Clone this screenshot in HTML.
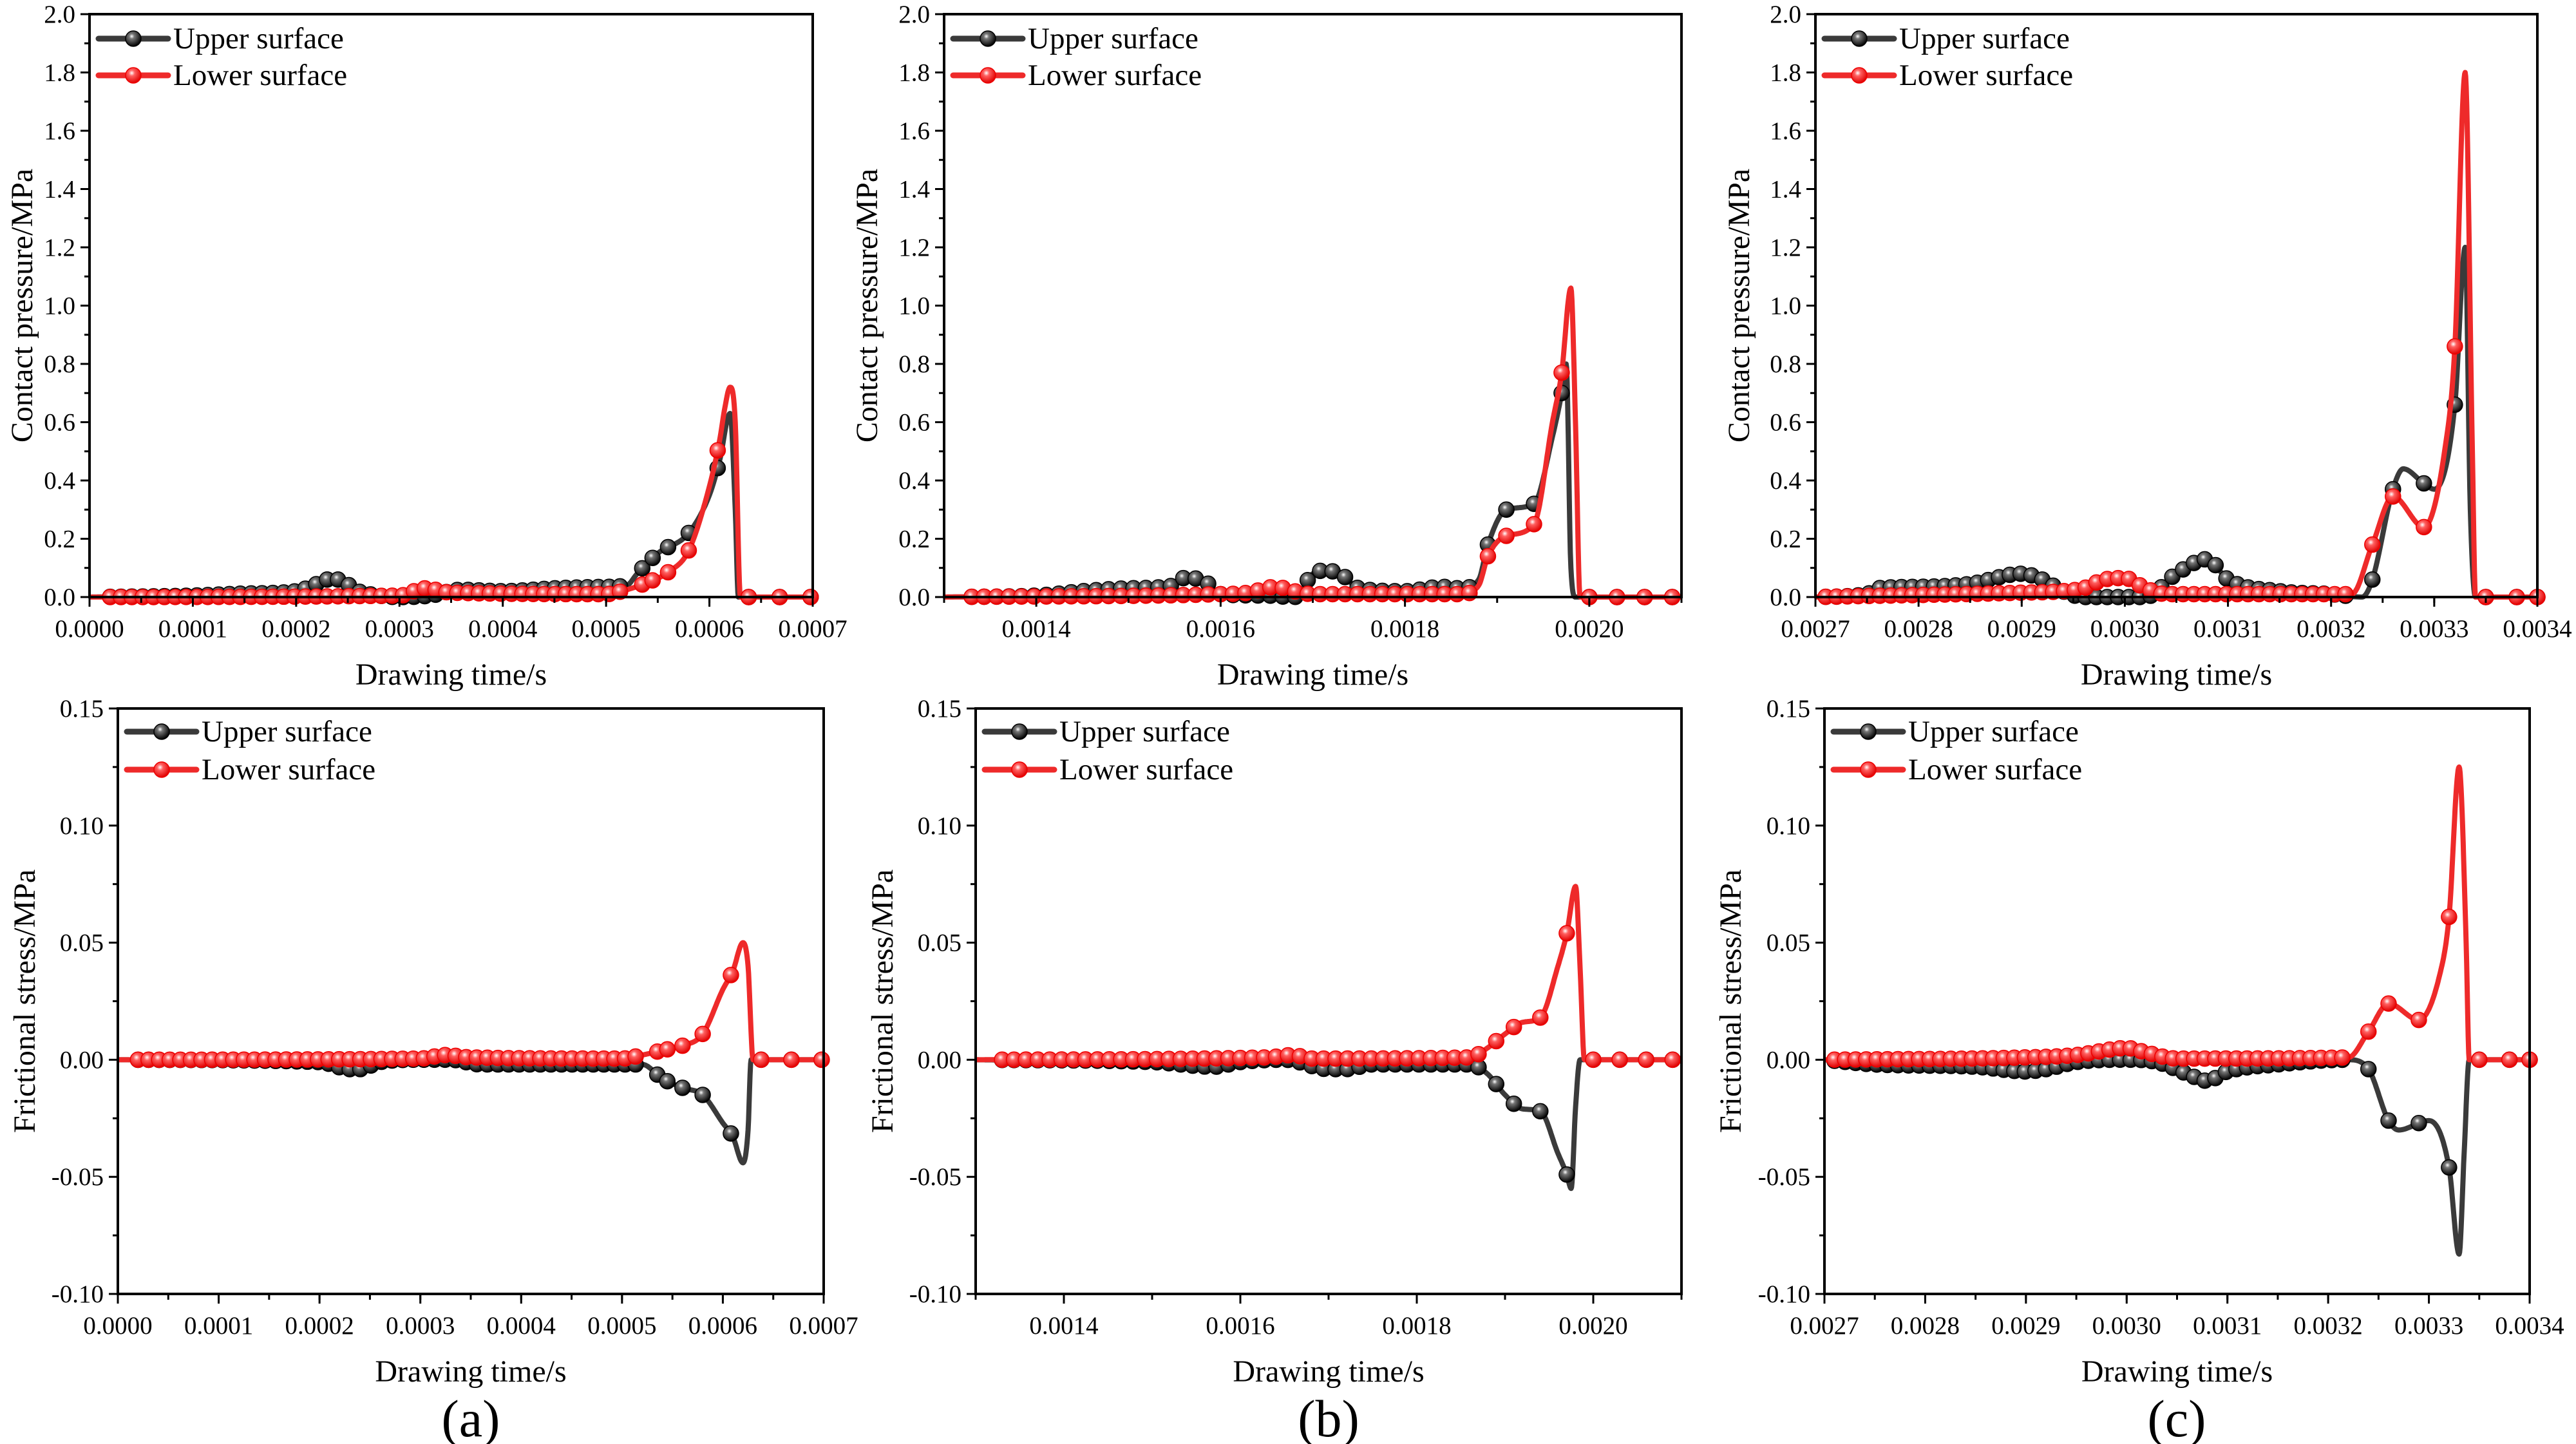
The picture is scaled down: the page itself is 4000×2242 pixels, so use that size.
<!DOCTYPE html>
<html><head><meta charset="utf-8"><style>
html,body{margin:0;padding:0;background:#fff}
svg{display:block}
svg text{font-family:"Liberation Serif","DejaVu Serif",serif;fill:#000}
</style></head><body>
<svg id="fig" width="4000" height="2242" viewBox="0 0 4000 2242" xmlns="http://www.w3.org/2000/svg" font-family="Liberation Serif, DejaVu Serif, serif">
<defs>
<radialGradient id="gBlack" cx="0.4" cy="0.35" r="0.65"><stop offset="0" stop-color="#fff"/><stop offset="0.25" stop-color="#777"/><stop offset="1" stop-color="#000"/></radialGradient>
<radialGradient id="gRed" cx="0.4" cy="0.35" r="0.65"><stop offset="0" stop-color="#fff"/><stop offset="0.3" stop-color="#ff6060"/><stop offset="1" stop-color="#e00000"/></radialGradient>
</defs>
</svg>
<script>
// ---------- data ----------
const aT_up=[0,0.0001,0.00015,0.0002,0.00022,0.00023,0.00024,0.00026,0.00028,0.0003,0.00033,0.00036,0.0004,0.00045,0.0005,0.00052,0.00053,0.00055,0.00058,0.0006,0.00061,0.00062,0.000625,0.000628,0.0007];
const aP_up=[0,0.005,0.012,0.02,0.045,0.06,0.06,0.02,0.005,0,0.005,0.025,0.02,0.03,0.035,0.04,0.08,0.15,0.22,0.35,0.47,0.63,0.3,0,0];
const aT_lo=[0,0.0003,0.000325,0.00035,0.0005,0.00052,0.00054,0.00056,0.00058,0.0006,0.00061,0.000615,0.00062,0.000625,0.00063,0.0007];
const aP_lo=[0,0.005,0.03,0.015,0.01,0.025,0.05,0.085,0.16,0.38,0.54,0.65,0.72,0.6,0,0];
const bT_up=[0.0013,0.0014,0.00145,0.0015,0.00155,0.00156,0.00158,0.0016,0.00165,0.00168,0.0017,0.00171,0.00173,0.00175,0.0018,0.00184,0.00186,0.00188,0.00189,0.00191,0.00194,0.00196,0.00197,0.001975,0.00198,0.001985,0.0021];
const bP_up=[0,0.005,0.02,0.03,0.04,0.065,0.06,0.01,0.005,0,0.08,0.09,0.08,0.03,0.02,0.035,0.03,0.06,0.18,0.30,0.32,0.55,0.70,0.80,0.1,0,0];
const bT_lo=[0.0013,0.0016,0.00163,0.00166,0.00168,0.0017,0.00186,0.00188,0.00189,0.00191,0.00194,0.00196,0.00197,0.00198,0.001985,0.00199,0.0021];
const bP_lo=[0,0.01,0.015,0.035,0.02,0.01,0.01,0.04,0.14,0.21,0.25,0.6,0.77,1.06,0.6,0,0];
const cT_up=[0.0027,0.00275,0.00276,0.0028,0.00285,0.0029,0.00292,0.00294,0.00296,0.003,0.00302,0.00305,0.00308,0.0031,0.00315,0.0032,0.00323,0.00324,0.00326,0.00327,0.00329,0.0033,0.00332,0.00333,0.003335,0.00334,0.0034];
const cP_up=[0,0.01,0.03,0.035,0.045,0.08,0.06,0.02,0,0,0,0.08,0.13,0.06,0.02,0.01,0,0.06,0.37,0.44,0.39,0.37,0.66,1.2,0.3,0,0];
const cT_lo=[0.0027,0.0029,0.00294,0.00296,0.00298,0.003,0.00302,0.00304,0.00322,0.00324,0.00326,0.00329,0.00331,0.00332,0.00333,0.003337,0.00334,0.0034];
const cP_lo=[0,0.015,0.02,0.03,0.06,0.065,0.03,0.01,0.01,0.18,0.345,0.24,0.5,0.86,1.8,0.5,0,0];
const aTF_up=[0,0.0002,0.00023,0.00024,0.00026,0.0003,0.00033,0.00036,0.0005,0.00052,0.00054,0.00056,0.00058,0.0006,0.00061,0.00062,0.000625,0.000628,0.0007];
const aF_up=[0,-0.001,-0.004,-0.004,-0.001,0,0,-0.002,-0.002,-0.002,-0.008,-0.012,-0.015,-0.027,-0.033,-0.044,-0.03,0,0];
const aTF_lo=[0,0.0003,0.000325,0.00035,0.0005,0.00052,0.00054,0.00056,0.00058,0.0006,0.00061,0.00062,0.000625,0.00063,0.0007];
const aF_lo=[0,0.0005,0.002,0.001,0.0005,0.002,0.004,0.006,0.011,0.03,0.038,0.05,0.04,0,0];
const bTF_up=[0.0013,0.0015,0.00157,0.0016,0.00165,0.0017,0.00172,0.00175,0.00186,0.00188,0.0019,0.00192,0.00194,0.00196,0.00197,0.001975,0.00198,0.001985,0.0021];
const bF_up=[0,-0.001,-0.003,-0.001,0,-0.004,-0.004,-0.002,-0.002,-0.006,-0.015,-0.021,-0.022,-0.04,-0.049,-0.055,-0.02,0,0];
const bTF_lo=[0.0013,0.00163,0.00166,0.00168,0.00186,0.00188,0.0019,0.00192,0.00194,0.00196,0.00197,0.00198,0.001985,0.00199,0.0021];
const bF_lo=[0,0.001,0.002,0.0005,0.001,0.005,0.011,0.016,0.018,0.04,0.054,0.074,0.04,0,0];
const cTF_up=[0.0027,0.00275,0.00285,0.0029,0.00292,0.00295,0.003,0.00303,0.00306,0.00308,0.0031,0.00315,0.00322,0.00324,0.00326,0.00327,0.0033,0.00332,0.00333,0.003335,0.00334,0.0034];
const cF_up=[0,-0.002,-0.003,-0.005,-0.004,-0.001,0,-0.001,-0.006,-0.009,-0.005,-0.002,0,-0.004,-0.026,-0.03,-0.026,-0.046,-0.083,-0.04,0,0];
const cTF_lo=[0.0027,0.0029,0.00295,0.003,0.00302,0.00305,0.00322,0.00324,0.00326,0.00329,0.00331,0.00332,0.00333,0.003337,0.00334,0.0034];
const cF_lo=[0,0.001,0.002,0.005,0.003,0.0005,0.001,0.012,0.024,0.017,0.035,0.061,0.125,0.05,0,0];
const aMarkExtra=[0.000535,0.000545,0.00056,0.00058,0.000608,0.000638,0.000668,0.000698];
const bMarkExtra=[0.00189,0.00191,0.00194,0.00197,0.002,0.00203,0.00206,0.00209];
const cMarkExtra=[0.00324,0.00326,0.00329,0.00332,0.00335,0.00338,0.0034];
const yTicksTop=[0,0.2,0.4,0.6,0.8,1.0,1.2,1.4,1.6,1.8,2.0];
const yTicksBot=[-0.10,-0.05,0.00,0.05,0.10,0.15];
const xTicksA=[0,0.0001,0.0002,0.0003,0.0004,0.0005,0.0006,0.0007];
const xTicksB=[0.0014,0.0016,0.0018,0.0020];
const xTicksC=[0.0027,0.0028,0.0029,0.0030,0.0031,0.0032,0.0033,0.0034];

// ---------- drawing ----------
const svg=document.getElementById('fig');
const NS='http://www.w3.org/2000/svg';
const FF='Liberation Serif, DejaVu Serif, serif';
function mk(tag,attrs,parent){const e=document.createElementNS(NS,tag);for(const k in attrs)e.setAttribute(k,attrs[k]);if(tag==='text')e.setAttribute('font-family',FF);(parent||svg).appendChild(e);return e;}
function mono(xs,ys){const n=xs.length,d=[],m=new Array(n).fill(0);
 for(let i=0;i<n-1;i++)d.push((ys[i+1]-ys[i])/(xs[i+1]-xs[i]));
 m[0]=d[0];m[n-1]=d[n-2];
 for(let i=1;i<n-1;i++){m[i]=(d[i-1]*d[i]<=0)?0:(d[i-1]+d[i])/2;}
 for(let i=0;i<n-1;i++){if(d[i]===0){m[i]=0;m[i+1]=0;continue;}const a=m[i]/d[i],b=m[i+1]/d[i],s=a*a+b*b;if(s>9){const t=3/Math.sqrt(s);m[i]=t*a*d[i];m[i+1]=t*b*d[i];}}
 return function(x){let i=0;while(i<n-2&&x>xs[i+1])i++;const h=xs[i+1]-xs[i];const t=Math.min(1,Math.max(0,(x-xs[i])/h));const t2=t*t,t3=t2*t;
  return (2*t3-3*t2+1)*ys[i]+(t3-2*t2+t)*h*m[i]+(-2*t3+3*t2)*ys[i+1]+(t3-t2)*h*m[i+1];};}

function panel(o){
 const g=mk('g',{});
 
 
 const X=v=>o.x0+(v-o.xmin)/(o.xmax-o.xmin)*(o.x1-o.x0);
 const Y=v=>o.y1-(v-o.ymin)/(o.ymax-o.ymin)*(o.y1-o.y0);
 const series=[{t:o.tu,v:o.vu,col:'#3a3a3a',grad:'url(#gBlack)',mcol:'#000',nm:'upper-surface'},{t:o.tl,v:o.vl,col:'#ee2a2a',grad:'url(#gRed)',mcol:'#e00',nm:'lower-surface'}];
 const clipId='clip'+o.name;
 const cp=mk('clipPath',{id:clipId},g);mk('rect',{x:o.x0,y:o.y0-10,width:o.x1-o.x0+14,height:o.y1-o.y0+24},cp);
 series.forEach(s=>{
  const f=mono(s.t,s.v);let d='';const N=1400;
  for(let i=0;i<=N;i++){const tt=s.t[0]+(s.t[s.t.length-1]-s.t[0])*i/N;d+=(i?'L':'M')+X(tt).toFixed(1)+','+Y(f(tt)).toFixed(1);}
  const p=mk('path',{d:d,fill:'none',stroke:s.col,'stroke-width':8,'stroke-linejoin':'round','clip-path':'url(#'+clipId+')'},g);
  
  
  const marks=[];for(let t=o.ms;t<=o.me+1e-12;t+=o.step)marks.push(t);o.extra.forEach(t=>marks.push(t));
  marks.forEach(t=>{const c=mk('circle',{cx:X(t),cy:Y(f(t)),r:12,fill:s.grad,stroke:s.mcol,'stroke-width':1.5},g);
   
   });
 });
 const fr=mk('rect',{x:o.x0,y:o.y0,width:o.x1-o.x0,height:o.y1-o.y0,fill:'none',stroke:'#000','stroke-width':4},g);
 
 
 o.yt.forEach((v,i)=>{const y=Y(v);mk('line',{x1:o.x0-14,x2:o.x0,y1:y,y2:y,stroke:'#000','stroke-width':3},g);
  const tx=mk('text',{x:o.x0-22,y:y+13,'font-size':39,'text-anchor':'end'},g);tx.textContent=o.yfmt(v);
  
  
  if(i<o.yt.length-1){const ym=Y((v+o.yt[i+1])/2);mk('line',{x1:o.x0-8,x2:o.x0,y1:ym,y2:ym,stroke:'#000','stroke-width':3},g);}});
 for(let v=o.xmin;v<=o.xmax+1e-12;v+=o.xminor){const x=X(v);mk('line',{x1:x,x2:x,y1:o.y1,y2:o.y1+9,stroke:'#000','stroke-width':3},g);}
 o.xt.forEach(v=>{const x=X(v);mk('line',{x1:x,x2:x,y1:o.y1,y2:o.y1+15,stroke:'#000','stroke-width':3},g);
  const tx=mk('text',{x:x,y:o.y1+62,'font-size':39,'text-anchor':'middle'},g);tx.textContent=v.toFixed(4);
  
  });
 const xl=mk('text',{x:(o.x0+o.x1)/2,y:o.y1+136,'font-size':48,'text-anchor':'middle'},g);xl.textContent='Drawing time/s';
 
 
 const yc=(o.y0+o.y1)/2;
 const yl=mk('text',{x:o.ylx,y:yc,'font-size':48,'text-anchor':'middle',transform:'rotate(-90 '+o.ylx+' '+yc+')'},g);yl.textContent=o.ytitle;
 
 
 [['Upper surface','#3a3a3a','url(#gBlack)','#000'],['Lower surface','#ee2a2a','url(#gRed)','#e00']].forEach((L,i)=>{
  const ly=o.y0+o.leg[i];
  const lg=mk('g',{},g);
  
  
  mk('line',{x1:o.x0+14,x2:o.x0+122,y1:ly,y2:ly,stroke:L[1],'stroke-width':9,'stroke-linecap':'round'},lg);
  mk('circle',{cx:o.x0+68,cy:ly,r:12,fill:L[2],stroke:L[3],'stroke-width':1.5},lg);
  const t=mk('text',{x:o.x0+130,y:ly+15,'font-size':47},lg);t.textContent=L[0];
 });
}
const fTop=v=>v.toFixed(1), fBot=v=>v.toFixed(2);
const topY={y0:22,y1:927,ymin:0,ymax:2,yt:yTicksTop,yfmt:fTop,ytitle:'Contact pressure/MPa',leg:[38,95]};
const botY={y0:1100,y1:2009,ymin:-0.1,ymax:0.15,yt:yTicksBot,yfmt:fBot,ytitle:'Frictional stress/MPa',leg:[36,95]};
const A={xmin:0,xmax:0.0007,xt:xTicksA,xminor:0.00005,ms:0.00002,me:0.00052,step:0.0000105,extra:aMarkExtra};
const B={xmin:0.0013,xmax:0.0021,xt:xTicksB,xminor:0.0001,ms:0.00133,me:0.00187,step:0.0000135,extra:bMarkExtra};
const C={xmin:0.0027,xmax:0.0034,xt:xTicksC,xminor:0.00005,ms:0.00271,me:0.00322,step:0.0000105,extra:cMarkExtra};
panel(Object.assign({name:'pressure-a',x0:139,x1:1262,ylx:50,tu:aT_up,vu:aP_up,tl:aT_lo,vl:aP_lo},topY,A));
panel(Object.assign({name:'pressure-b',x0:1466,x1:2611,ylx:1362,tu:bT_up,vu:bP_up,tl:bT_lo,vl:bP_lo},topY,B));
panel(Object.assign({name:'pressure-c',x0:2819,x1:3940,ylx:2716,tu:cT_up,vu:cP_up,tl:cT_lo,vl:cP_lo},topY,C));
panel(Object.assign({name:'friction-a',x0:183,x1:1279,ylx:54,tu:aTF_up,vu:aF_up,tl:aTF_lo,vl:aF_lo},botY,A));
panel(Object.assign({name:'friction-b',x0:1515,x1:2611,ylx:1386,tu:bTF_up,vu:bF_up,tl:bTF_lo,vl:bF_lo},botY,B));
panel(Object.assign({name:'friction-c',x0:2833,x1:3928,ylx:2703,tu:cTF_up,vu:cF_up,tl:cTF_lo,vl:cF_lo},botY,C));
[['(a)',731],['(b)',2063],['(c)',3380]].forEach(p=>{const t=mk('text',{x:p[1],y:2230,'font-size':82,'text-anchor':'middle'});t.textContent=p[0];
 
 });
</script>
</body></html>
